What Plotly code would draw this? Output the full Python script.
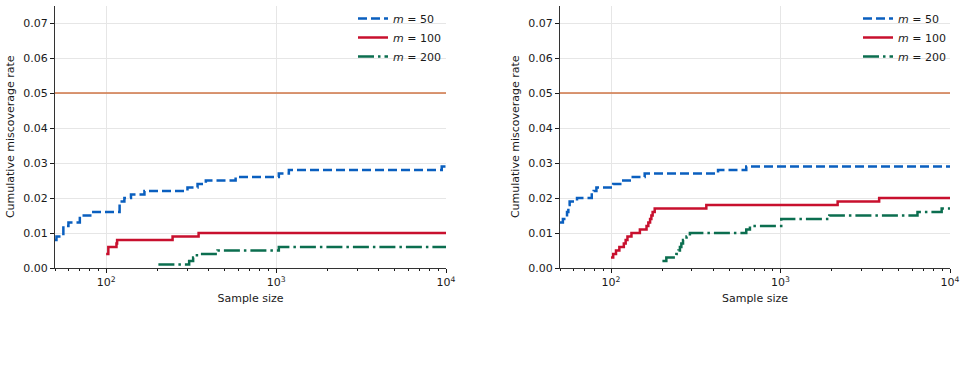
import numpy as np
import plotly.graph_objects as go

# ---------------- data ----------------
alpha = 0.05

# left panel
n50_L = [50, 51, 56, 60, 70, 84, 120, 128, 140, 168, 301, 345, 386, 578, 1038, 1189, 9440, 10000]
r50_L = [0.008, 0.009, 0.012, 0.013, 0.015, 0.016, 0.019, 0.020, 0.021, 0.022, 0.023, 0.024,
         0.025, 0.026, 0.027, 0.028, 0.029, 0.029]
n100_L = [100, 103, 115, 116, 246, 350, 10000]
r100_L = [0.004, 0.006, 0.007, 0.008, 0.009, 0.010, 0.010]
n200_L = [203, 308, 325, 342, 452, 1038, 10000]
r200_L = [0.001, 0.002, 0.003, 0.004, 0.005, 0.006, 0.006]

# right panel
n50_R = [50, 52, 55, 56, 57, 63, 77, 79, 82, 103, 116, 132, 158, 428, 628, 10000]
r50_R = [0.013, 0.014, 0.016, 0.018, 0.019, 0.020, 0.021, 0.022, 0.023, 0.024, 0.025,
         0.026, 0.027, 0.028, 0.029, 0.029]
n100_R = [100, 103, 107, 112, 119, 122, 125, 132, 148, 162, 166, 170, 173, 176, 181, 365,
          2173, 3820, 10000]
r100_R = [0.003, 0.004, 0.005, 0.006, 0.007, 0.008, 0.009, 0.010, 0.011, 0.012, 0.013,
          0.014, 0.015, 0.016, 0.017, 0.018, 0.019, 0.020, 0.020]
n200_R = [201, 212, 243, 250, 255, 260, 266, 279, 292, 628, 660, 1010, 1941, 6430, 8930, 10000]
r200_R = [0.002, 0.003, 0.004, 0.005, 0.006, 0.007, 0.008, 0.009, 0.010, 0.011, 0.012,
          0.014, 0.015, 0.016, 0.017, 0.017]

series_names = ["<i>m</i> = 50", "<i>m</i> = 100", "<i>m</i> = 200"]
y_ticks = [0.00, 0.01, 0.02, 0.03, 0.04, 0.05, 0.06, 0.07]
x_ticks = [100, 1000, 10000]
x_ticktext = ["10<sup>2</sup>", "10<sup>3</sup>", "10<sup>4</sup>"]

# ---------------- styling ----------------
FONT = "DejaVu Sans"
TXT = "#1a1a1a"
colors = ["#0a5fbf", "#c8102e", "#0b6e4f"]
dashes = ["9px,4px", "solid", "16px,4px,2.5px,4px"]
LW = 2.5

W, H = 967, 365
def px_x(p):
    return p / W
def px_y(p):
    return 1 - p / H

fig = go.Figure()

panels = [
    ([n50_L, n100_L, n200_L], [r50_L, r100_L, r200_L], "x", "y", "legend"),
    ([n50_R, n100_R, n200_R], [r50_R, r100_R, r200_R], "x2", "y2", "legend2"),
]
for ns, rs, xa, ya, lg in panels:
    for i in range(3):
        fig.add_trace(go.Scatter(
            x=ns[i], y=rs[i], mode="lines", line_shape="hv",
            line=dict(color=colors[i], width=LW, dash=dashes[i]),
            name=series_names[i], xaxis=xa, yaxis=ya, legend=lg,
        ))
    fig.add_shape(type="line", xref=f"{xa} domain", yref=ya, x0=0, x1=1, y0=alpha, y1=alpha,
                  line=dict(color="#cf7444", width=1.3), layer="above")

minor_vals = [v * 10 ** k for k in (1, 2, 3) for v in range(2, 10)]

def xaxis_cfg(d0, d1, anchor):
    return dict(
        type="log", range=[np.log10(50), 4], domain=[d0, d1], anchor=anchor,
        tickvals=x_ticks, ticktext=x_ticktext,
        ticks="outside", ticklen=4, tickwidth=1, tickcolor=TXT,
        minor=dict(tickvals=minor_vals, ticks="outside", ticklen=2, tickwidth=0.8,
                   tickcolor=TXT, showgrid=False),
        showline=True, linecolor="#333333", linewidth=1.2, mirror=False,
        showgrid=True, gridcolor="#e6e6e6", gridwidth=1,
        zeroline=False, automargin=False,
        tickfont=dict(family=FONT, size=11, color=TXT),
        title=dict(text="Sample size", font=dict(family=FONT, size=11, color=TXT), standoff=6),
    )

def yaxis_cfg(anchor):
    return dict(
        range=[0, 0.075], domain=[px_y(268), px_y(5.5)], anchor=anchor,
        tickvals=y_ticks, tickformat=".2f",
        ticks="outside", ticklen=4, tickwidth=1, tickcolor=TXT,
        showline=True, linecolor="#333333", linewidth=1.2, mirror=False,
        showgrid=True, gridcolor="#e6e6e6", gridwidth=1,
        zeroline=False, automargin=False,
        tickfont=dict(family=FONT, size=11, color=TXT),
        title=dict(text="Cumulative miscoverage rate", font=dict(family=FONT, size=11, color=TXT),
                   standoff=6),
    )

legend_common = dict(
    bgcolor="rgba(0,0,0,0)", borderwidth=0,
    font=dict(family=FONT, size=11, color=TXT),
    xanchor="left", yanchor="top", tracegroupgap=0,
)

fig.update_layout(
    width=W, height=H,
    margin=dict(l=0, r=0, t=0, b=0),
    paper_bgcolor="white", plot_bgcolor="white",
    xaxis=xaxis_cfg(px_x(55), px_x(446), "y"),
    yaxis=yaxis_cfg("x"),
    xaxis2=xaxis_cfg(px_x(560), px_x(950), "y2"),
    yaxis2=yaxis_cfg("x2"),
    legend=dict(x=px_x(353), y=px_y(4), **legend_common),
    legend2=dict(x=px_x(858), y=px_y(4), **legend_common),
    font=dict(family=FONT, size=11, color=TXT),
)

fig.write_html("out.html")
